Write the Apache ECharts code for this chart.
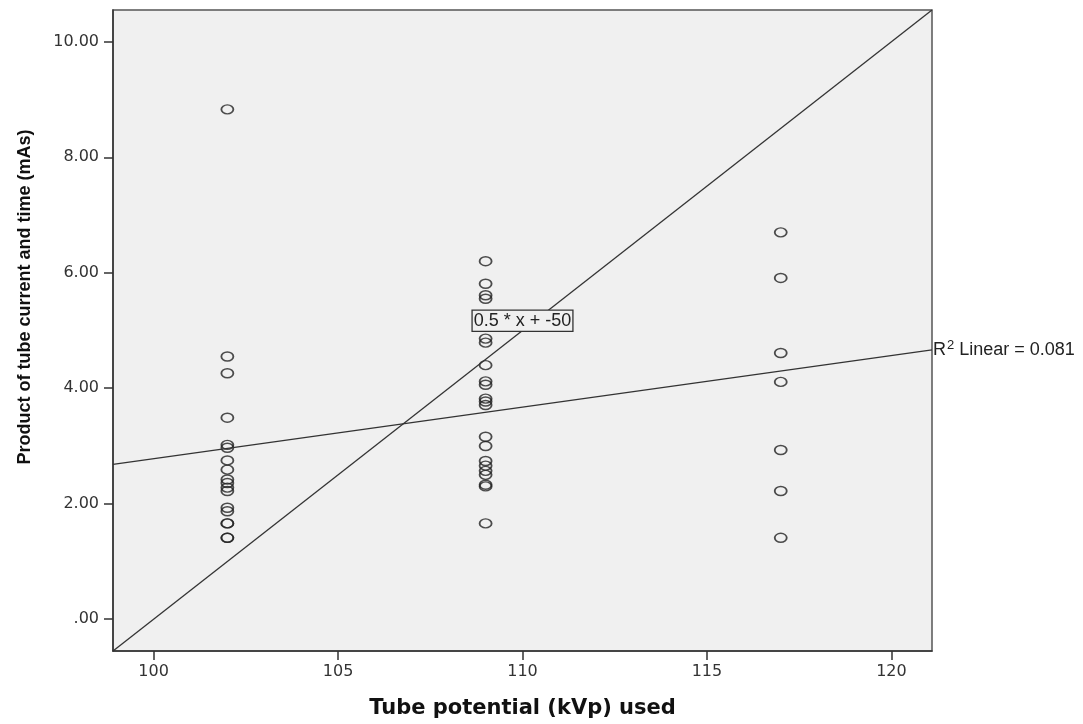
<!DOCTYPE html>
<html lang="en" style="height: 100%">
<head>
    <meta charset="utf-8">
</head>
<body style="height: 100%; margin: 0; background: #fff">
<div id="main" style="width: 1083px; height: 724px"></div>

<script type="text/javascript" src="https://cdn.jsdelivr.net/npm/echarts@6/dist/echarts.min.js"></script>

<script type="text/javascript">
    // mAs values, one list per kVp setting
    var kvp102 = [8.83, 4.55, 4.26, 3.49, 3.02, 2.97, 2.75, 2.59, 2.42, 2.36, 2.28, 2.22, 1.93, 1.87, 1.66, 1.66, 1.41, 1.41];
    var kvp109 = [6.20, 5.81, 5.61, 5.55, 4.86, 4.79, 4.40, 4.12, 4.06, 3.82, 3.77, 3.71, 3.16, 3.00, 2.74, 2.66, 2.57, 2.50, 2.33, 2.30, 1.66];
    var kvp117 = [6.70, 5.91, 4.61, 4.11, 2.93, 2.22, 1.41];

    var xRange = [98.9, 121.1];
    var yRange = [-0.55, 10.55];
    var xTicks = [100, 105, 110, 115, 120];
    var yTicks = [0, 2, 4, 6, 8, 10];

    // reference line 0.5 * x + -50 and the fitted line (R2 = 0.081)
    var refLine = { slope: 0.5, intercept: -50, label: '0.5 * x + -50', labelAt: [110.0, 5.17] };
    var fitLine = { slope: 0.0893, intercept: -6.15, r2: '0.081' };

    function pts(x, list) {
        return list.map(function (v) { return [x, v]; });
    }
    var points = pts(102, kvp102).concat(pts(109, kvp109), pts(117, kvp117));

    function lineData(l) {
        return xRange.map(function (x) { return [x, l.slope * x + l.intercept]; });
    }
    var refData = lineData(refLine);
    var fitData = lineData(fitLine);

    var chart = echarts.init(document.getElementById('main'));

    var axisText = { fontFamily: 'DejaVu Sans', fontSize: 16, color: '#333' };

    chart.setOption({
        animation: false,
        grid: {
            left: 113, top: 10, right: 151, bottom: 72,
            show: true, backgroundColor: '#f0f0f0', borderColor: '#555', borderWidth: 1.5
        },
        xAxis: {
            type: 'value', min: xRange[0], max: xRange[1],
            splitLine: { show: false },
            axisLine: { onZero: false, lineStyle: { color: '#333', width: 1.5 } },
            axisTick: { length: 9, lineStyle: { color: '#333', width: 1.5 }, customValues: xTicks },
            axisLabel: Object.assign({ margin: 13, customValues: xTicks }, axisText),
            name: 'Tube potential (kVp) used', nameLocation: 'middle', nameGap: 47,
            nameTextStyle: { fontFamily: 'DejaVu Sans', fontWeight: 'bold', fontSize: 21, color: '#111' }
        },
        yAxis: {
            type: 'value', min: yRange[0], max: yRange[1],
            splitLine: { show: false },
            axisLine: { onZero: false, lineStyle: { color: '#333', width: 1.5 } },
            axisTick: { length: 9, lineStyle: { color: '#333', width: 1.5 }, customValues: yTicks },
            axisLabel: Object.assign({
                margin: 14, customValues: yTicks,
                formatter: function (v) { return v === 0 ? '.00' : v.toFixed(2); }
            }, axisText)
        },
        graphic: [{
            type: 'text', x: 25, y: 297, rotation: Math.PI / 2,
            style: {
                text: 'Product of tube current and time (mAs)',
                fontFamily: 'Liberation Sans', fontWeight: 'bold', fontSize: 18, fill: '#111',
                align: 'center', verticalAlign: 'middle'
            }
        }],
        series: [{
            type: 'line', data: refData, symbol: 'none', silent: true,
            lineStyle: { color: '#333', width: 1.3 },
            markPoint: {
                symbol: 'rect', symbolSize: 0,
                data: [{ coord: refLine.labelAt }],
                label: {
                    show: true, formatter: refLine.label, position: 'inside',
                    fontFamily: 'Liberation Sans', fontSize: 18, color: '#222',
                    backgroundColor: '#f0f0f0', borderColor: '#333', borderWidth: 1.3,
                    padding: [2, 1, 0, 1]
                }
            }
        }, {
            type: 'line', data: fitData, symbol: 'none', silent: true,
            lineStyle: { color: '#333', width: 1.3 },
            markPoint: {
                symbol: 'rect', symbolSize: 0,
                data: [{ coord: fitData[1] }],
                label: {
                    show: true, position: 'right', distance: 1,
                    formatter: 'R{sup|2} Linear = ' + fitLine.r2,
                    fontFamily: 'Liberation Sans', fontSize: 18, color: '#222',
                    rich: { sup: { fontFamily: 'Liberation Sans', fontSize: 13, color: '#222', verticalAlign: 'top', padding: [0, 0, 9, 1] } }
                }
            }
        }, {
            type: 'scatter', data: points,
            symbol: 'circle', symbolSize: [12, 9],
            itemStyle: { color: 'rgba(0,0,0,0)', borderColor: '#222', borderWidth: 1.6 }
        }]
    });
</script>
</body>
</html>
